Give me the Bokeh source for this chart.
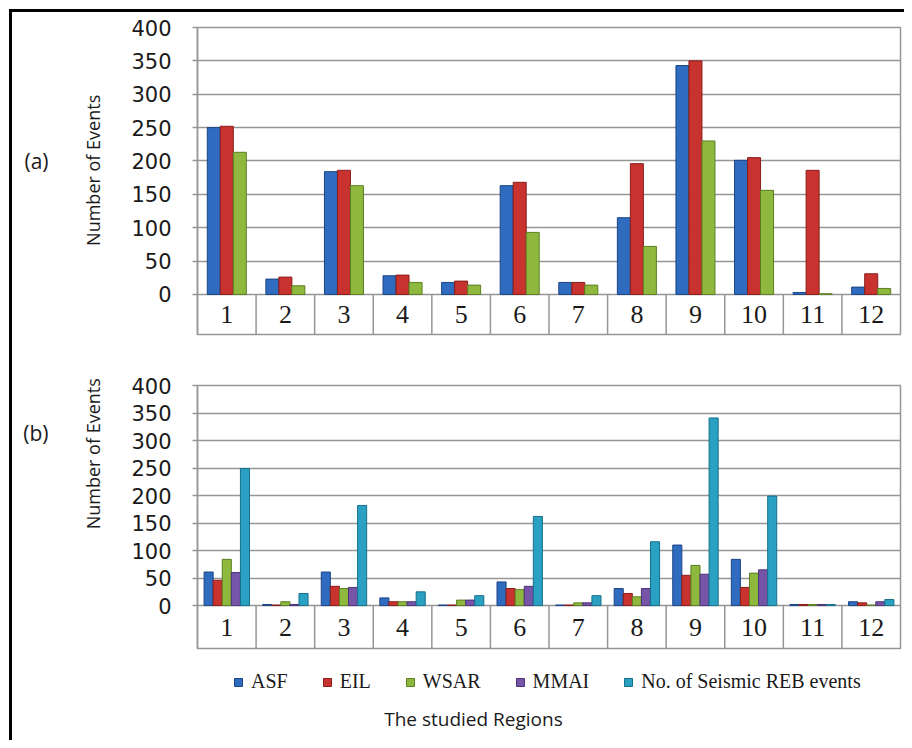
from bokeh.plotting import figure
from bokeh.models import (ColumnDataSource, FixedTicker, Legend, LegendItem, Range1d,
                          LinearAxis, Label)
from bokeh.transform import dodge
from bokeh.layouts import column
from bokeh.embed import file_html
from bokeh.resources import INLINE
from bokeh.core.properties import value

# ---------------- data ----------------
regions = ["1", "2", "3", "4", "5", "6", "7", "8", "9", "10", "11", "12"]
y_ticks = [0, 50, 100, 150, 200, 250, 300, 350, 400]

# panel (a)
a_asf = [250, 23, 184, 28, 18, 163, 18, 115, 343, 201, 3, 11]
a_eil = [252, 26, 186, 29, 20, 168, 18, 196, 350, 205, 186, 31]
a_wsar = [213, 13, 163, 18, 14, 93, 14, 72, 230, 156, 1, 9]

# panel (b)
b_asf = [61, 2, 61, 14, 1, 43, 1, 31, 110, 84, 2, 7]
b_eil = [46, 1, 35, 7, 1, 31, 1, 22, 55, 33, 2, 5]
b_wsar = [84, 7, 31, 7, 10, 29, 5, 16, 73, 59, 2, 1]
b_mmai = [60, 2, 33, 7, 10, 35, 5, 31, 57, 65, 2, 7]
b_reb = [249, 22, 182, 25, 18, 162, 18, 116, 341, 199, 2, 11]

series_names = ["ASF", "EIL", "WSAR", "MMAI", "No. of Seismic REB events"]
fills = ["#2f6cc0", "#c8322f", "#8fb83e", "#7654a8", "#2aa0c2"]
edges = ["#1b4585", "#8a1d1b", "#5c7f22", "#4d3479", "#17708a"]

y_title = "Number of Events"
x_title = "The studied Regions"
panel_tags = ["(a)", "(b)"]

GRID = "#969696"
TXT = "#1a1a1a"

xpos = [int(r) for r in regions]
bounds = [i + 0.5 for i in range(1, len(regions))]


def base_fig(height, mbt, mbb, ymin, tag, tag_y, title_y):
    p = figure(width=892, height=height, output_backend="svg", toolbar_location=None,
               x_range=Range1d(0.5, len(regions) + 0.5), y_range=Range1d(ymin, 400),
               x_axis_location=None, min_border_left=185, min_border_right=4,
               min_border_top=mbt, min_border_bottom=mbb)
    p.background_fill_color = "white"
    p.border_fill_color = "white"
    p.outline_line_color = GRID
    p.outline_line_width = 1.5
    p.xgrid.visible = False
    p.yaxis.ticker = FixedTicker(ticks=y_ticks)
    p.ygrid.grid_line_color = GRID
    p.ygrid.grid_line_width = 1.5
    p.yaxis.axis_line_color = GRID
    p.yaxis.axis_line_width = 1.5
    p.yaxis.major_tick_line_color = GRID
    p.yaxis.major_tick_line_width = 1.5
    p.yaxis.major_tick_out = 5
    p.yaxis.major_tick_in = 0
    p.yaxis.minor_tick_line_color = None
    p.yaxis.major_label_standoff = 21
    p.yaxis.major_label_text_font = "DejaVu Sans"
    p.yaxis.major_label_text_font_size = "21px"
    p.yaxis.major_label_text_color = TXT

    # vertical axis title (a single rotated tick label)
    ax_t = LinearAxis(ticker=FixedTicker(ticks=[title_y]),
                      major_label_overrides={title_y: y_title},
                      major_label_orientation="parallel")
    # panel tag "(a)" / "(b)"
    ax_p = LinearAxis(ticker=FixedTicker(ticks=[tag_y]),
                      major_label_overrides={tag_y: tag})
    for ax, sz, so in [(ax_t, "18px", 23), (ax_p, "21px", 30)]:
        ax.axis_line_color = None
        ax.major_tick_line_color = None
        ax.minor_tick_line_color = None
        ax.major_tick_out = 0
        ax.major_tick_in = 0
        ax.major_label_standoff = so
        ax.major_label_text_font = "Open Sans"
        ax.major_label_text_font_size = sz
        ax.major_label_text_color = TXT
        p.add_layout(ax, "left")

    # table under the bars
    p.segment(x0=bounds, y0=0, x1=bounds, y1=ymin, line_color=GRID, line_width=1.5)
    src = ColumnDataSource(dict(x=xpos, lab=regions))
    p.text(x="x", y=ymin / 2, text="lab", source=src, text_align="center",
           text_baseline="middle", text_font=value("Liberation Serif"),
           text_font_size="26px", text_color=TXT)
    return p


# ---------------- panel (a) ----------------
pa = base_fig(342, 15, 20, -60, panel_tags[0], 200, 186)
src_a = ColumnDataSource(dict(x=xpos, asf=a_asf, eil=a_eil, wsar=a_wsar))
wa = 0.222
for i, col in enumerate(["asf", "eil", "wsar"]):
    pa.vbar(x=dodge("x", (i - 1) * wa), top=col, bottom=0, width=wa, source=src_a,
            fill_color=fills[i], line_color=edges[i], line_width=1)

# ---------------- panel (b) ----------------
pb = base_fig(296, 31, 2, -78, panel_tags[1], 314, 276)
src_b = ColumnDataSource(dict(x=xpos, asf=b_asf, eil=b_eil, wsar=b_wsar, mmai=b_mmai, reb=b_reb))
wb = 0.155
cols_b = ["asf", "eil", "wsar", "mmai", "reb"]
for i, col in enumerate(cols_b):
    pb.vbar(x=dodge("x", (i - 2) * wb), top=col, bottom=0, width=wb, source=src_b,
            fill_color=fills[i], line_color=edges[i], line_width=1)

# ---------------- legend + x title strip (frame aligned with the panels) ----------------
pc = figure(width=892, height=90, output_backend="svg", toolbar_location=None,
            x_range=Range1d(0, 703), y_range=Range1d(0, 90),
            x_axis_location=None, y_axis_location=None,
            min_border_left=185, min_border_right=4, min_border_top=0, min_border_bottom=0)
pc.outline_line_color = None
pc.grid.visible = False
pc.border_fill_color = "white"
keys = []
for i, col in enumerate(cols_b):
    # same series as panel (b); hidden here, used only for the legend swatches
    r = pc.vbar(x=dodge("x", (i - 2) * wb), top=col, bottom=0, width=wb, source=src_b,
                fill_color=fills[i], line_color=edges[i], line_width=1, visible=False)
    keys.append(r)
legend = Legend(items=[LegendItem(label=n, renderers=[r]) for n, r in zip(series_names, keys)],
                orientation="horizontal", location=(36, 47))
legend.glyph_width = 10
legend.glyph_height = 10
legend.label_standoff = 8
legend.spacing = 34
legend.padding = 4
legend.margin = 0
legend.border_line_color = None
legend.background_fill_alpha = 0
legend.inactive_fill_alpha = 0
legend.label_text_font = "Liberation Serif"
legend.label_text_font_size = "20px"
legend.label_text_color = TXT
pc.add_layout(legend)
pc.add_layout(Label(x=276, y=22, text=x_title, text_align="center", text_baseline="middle",
                    text_font="Open Sans", text_font_size="19px", text_color=TXT))

layout = column(pa, pb, pc, styles={"margin-top": "9px", "margin-left": "9px",
                                    "border-top": "3px solid black",
                                    "border-left": "3px solid black"})

open("out.html", "w").write(file_html(layout, INLINE))
